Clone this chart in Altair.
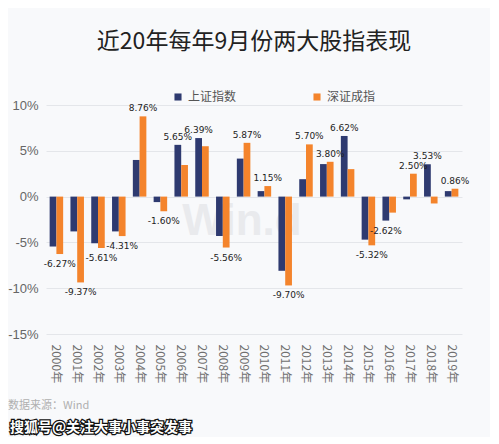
import altair as alt
import pandas as pd

years = ["2000年", "2001年", "2002年", "2003年", "2004年", "2005年", "2006年",
         "2007年", "2008年", "2009年", "2010年", "2011年", "2012年", "2013年",
         "2014年", "2015年", "2016年", "2017年", "2018年", "2019年"]
series_names = ["上证指数", "深证成指"]
sh_values = [-5.45, -3.80, -5.10, -3.80, 4.00, -0.60, 5.65, 6.39, -4.30, 4.15,
             0.60, -8.10, 1.90, 3.55, 6.62, -4.70, -2.62, -0.30, 3.53, 0.60]
sz_values = [-6.27, -9.37, -5.61, -4.31, 8.76, -1.60, 3.45, 5.50, -5.56, 5.87,
             1.15, -9.70, 5.70, 3.80, 3.00, -5.32, -1.75, 2.50, -0.75, 0.86]
colors = ["#2e3a70", "#f4842c"]

rows = []
for i, yr in enumerate(years):
    a, b = sh_values[i], sz_values[i]
    big = 0 if abs(a) > abs(b) else 1
    for k, v in enumerate((a, b)):
        rows.append({
            "year": yr,
            "series": series_names[k],
            "value": v,
            "label": f"{v:.2f}%" if k == big else "",
        })
df = pd.DataFrame(rows)

CJK = "Noto Sans CJK SC"

x_enc = alt.X("year:N", sort=years, title=None,
              scale=alt.Scale(paddingInner=0.35, paddingOuter=0.175),
              axis=alt.Axis(labelAngle=90, labelFont=CJK, labelFontSize=12,
                            labelColor="#707070", labelPadding=10, ticks=False,
                            domain=False, grid=False))
y_enc = alt.Y("value:Q", title=None,
              scale=alt.Scale(domain=[-15, 10], nice=False, zero=True),
              axis=alt.Axis(values=[-15, -10, -5, 0, 5, 10],
                            labelExpr="datum.value + '%'",
                            labelFont="Liberation Sans", labelFontSize=13,
                            labelColor="#666666", labelPadding=8,
                            ticks=False, domain=False,
                            gridColor="#e4e6ea", gridWidth=1))
off = alt.XOffset("series:N", sort=series_names)

base = alt.Chart(df)

bars = base.mark_bar().encode(
    x=x_enc, y=y_enc, xOffset=off,
    color=alt.Color("series:N", sort=series_names,
                    scale=alt.Scale(domain=series_names, range=colors),
                    legend=alt.Legend(title=None, orient="none", direction="horizontal",
                                      legendX=126, legendY=-14,
                                      symbolType="square", symbolSize=50,
                                      symbolStrokeWidth=0,
                                      labelFont=CJK, labelFontSize=12,
                                      labelColor="#555555", columnPadding=74)),
)

pos_labels = base.transform_filter("datum.label != '' && datum.value >= 0").mark_text(
    baseline="bottom", dy=-3, fontSize=9, font="DejaVu Sans", color="#222222"
).encode(x=x_enc, y=y_enc, xOffset=off, text="label:N")

neg_labels = base.transform_filter("datum.label != '' && datum.value < 0").mark_text(
    baseline="top", dy=6, fontSize=9, font="DejaVu Sans", color="#222222"
).encode(x=x_enc, y=y_enc, xOffset=off, text="label:N")

wm = alt.Chart(alt.Data(values=[{}])).mark_text(
    text="Win.d", fontSize=44, fontWeight="bold", font="Liberation Sans",
    color="#e9eaed", align="center", baseline="middle"
).encode(x=alt.value(196), y=alt.value(117))

source = alt.Chart(alt.Data(values=[{}])).mark_text(
    text="数据来源：Wind", fontSize=11, font=CJK, color="#b0b0b0",
    align="left", baseline="middle"
).encode(x=alt.value(-38), y=alt.value(301))

sohu_outline = alt.Chart(alt.Data(values=[{}])).mark_text(
    text="搜狐号@关注大事小事突发事", fontSize=14, font=CJK, fontWeight="bold",
    color="#ffffff", stroke="#111111", strokeWidth=2.5,
    align="left", baseline="middle"
).encode(x=alt.value(-36), y=alt.value(323))
sohu_fill = alt.Chart(alt.Data(values=[{}])).mark_text(
    text="搜狐号@关注大事小事突发事", fontSize=14, font=CJK, fontWeight="bold",
    color="#ffffff", align="left", baseline="middle"
).encode(x=alt.value(-36), y=alt.value(323))

chart = alt.layer(wm, bars, pos_labels, neg_labels, source, sohu_outline, sohu_fill).properties(
    width=416, height=229,
    title=alt.TitleParams("近20年每年9月份两大股指表现", font=CJK, fontSize=23,
                          fontWeight="normal", color="#222222",
                          anchor="middle", offset=37),
    autosize=alt.AutoSizeParams(type="none"),
    padding={"left": 38, "top": 97, "right": 28, "bottom": 103},
    background="#f8f9fb",
).configure_view(stroke=None)

chart.save("out.html", embed_options={"renderer": "svg", "actions": False})
